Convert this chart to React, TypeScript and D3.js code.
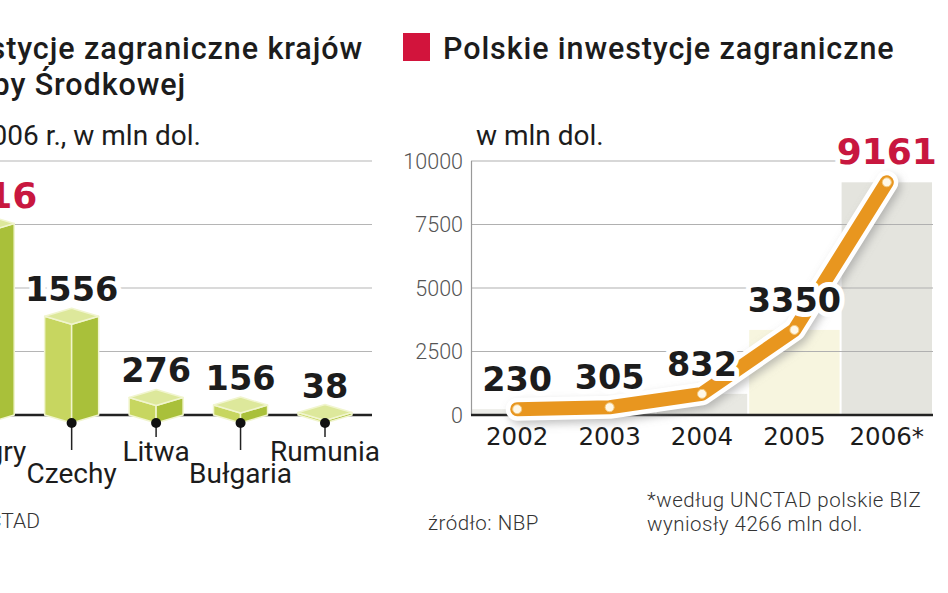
import React from "react";
import * as d3 from "d3";

// left panel: Central European outward FDI in 2006
const countries = ["Węgry", "Czechy", "Litwa", "Bułgaria", "Rumunia"];
const countryValues = [3016, 1556, 276, 156, 38];
const countryTicks = [0, 1000, 2000, 3000, 4000];

// right panel: Polish outward FDI
const years = ["2002", "2003", "2004", "2005", "2006*"];
const polandValues = [230, 305, 832, 3350, 9161];
const polandTicks = [0, 2500, 5000, 7500, 10000];

const RED = "#c8173f";
const INK = "#1c1c1c";
const SANS = "Roboto, 'Liberation Sans', sans-serif";
const NUM = "'DejaVu Sans', sans-serif";

const App = () => {
  // ---- left chart
  const xL = d3.scalePoint<string>().domain(countries).range([-12.8, 325]);
  const yL = d3.scaleLinear().domain([0, 4000]).range([415, 161]);
  const base = yL(0);
  const hw = 27; // half width of a box
  const dy = 8; // isometric depth

  const boxes = countries.map((c, i) => {
    const cx = xL(c)!;
    const top = yL(countryValues[i]);
    const left = [
      [cx - hw, base],
      [cx, base + dy],
      [cx, top + dy],
      [cx - hw, top],
    ];
    const right = [
      [cx, base + dy],
      [cx + hw, base],
      [cx + hw, top],
      [cx, top + dy],
    ];
    const lid = [
      [cx - hw, top],
      [cx, top + dy],
      [cx + hw, top],
      [cx, top - dy],
    ];
    return { c, cx, top, left, right, lid, v: countryValues[i], i };
  });
  const pts = (p: number[][]) => p.map((d) => d.join(",")).join(" ");

  // ---- right chart
  const xR = d3.scaleBand<string>().domain(years).range([471, 933]);
  const yR = d3.scaleLinear().domain([0, 10000]).range([415, 161]);
  const bw = xR.bandwidth();
  const cxR = (i: number) => xR(years[i])! + bw / 2;
  const line = d3
    .line<number>()
    .x((d, i) => cxR(i))
    .y((d) => yR(d));
  const path = line(polandValues) || "";
  const barFill = ["#ececE8", "#ececE8", "#e8e8e2", "#f7f5df", "#e4e4de"];

  return (
    <svg
      width={948}
      height={593}
      style={{ position: "absolute", left: 0, top: 0, background: "#fff" }}
    >
      <defs>
        <filter id="soft" x="-20%" y="-20%" width="140%" height="140%">
          <feGaussianBlur stdDeviation="4" />
        </filter>
      </defs>

      {/* ---------- left panel ---------- */}
      <g fontFamily={SANS} fill={INK}>
        <g fontSize={30.5} fontWeight={500} letterSpacing={0.9}>
          <text x={363} y={59} textAnchor="end">
            Inwestycje zagraniczne krajów
          </text>
          <text x={186} y={95} textAnchor="end">
            Europy Środkowej
          </text>
        </g>
        <text x={201} y={145} textAnchor="end" fontSize={28}>
          w 2006 r., w mln dol.
        </text>
        <text x={40} y={528} textAnchor="end" fontSize={21} fontWeight={300} fill="#333">
          źródło: UNCTAD
        </text>
      </g>

      {countryTicks.slice(1).map((t) => (
        <line key={t} x1={0} x2={372} y1={yL(t)} y2={yL(t)} stroke="#b5b5b5" strokeWidth={1.2} />
      ))}
      <line x1={0} x2={372} y1={base} y2={base} stroke="#222" strokeWidth={2.5} />

      {boxes.map((b) => (
        <g key={b.c} stroke="#f1f5cf" strokeWidth={1.5} strokeLinejoin="round">
          <polygon points={pts(b.left)} fill="#c7d660" />
          <polygon points={pts(b.right)} fill="#a9c03a" />
          <polygon points={pts(b.lid)} fill="#dde89b" />
        </g>
      ))}

      {boxes.map((b) => {
        const low = b.i % 2 === 1;
        return (
          <g key={b.c}>
            <line x1={b.cx} x2={b.cx} y1={base + dy} y2={low ? 450 : 437} stroke="#222" strokeWidth={1.5} />
            <circle cx={b.cx} cy={base + dy} r={5} fill="#111" />
            <text
              x={b.cx}
              y={low ? 483 : 461}
              textAnchor="middle"
              fontFamily={SANS}
              fontSize={28}
              fill={INK}
            >
              {b.c}
            </text>
            <text
              x={b.cx}
              y={b.top - dy - 7}
              textAnchor="middle"
              fontFamily={NUM}
              fontWeight="bold"
              fontSize={b.i === 0 ? 36 : 33.5}
              fill={b.i === 0 ? RED : INK}
              stroke="#fff"
              strokeWidth={10}
              strokeLinejoin="round"
              paintOrder="stroke"
            >
              {b.v}
            </text>
          </g>
        );
      })}

      {/* ---------- right panel ---------- */}
      <rect x={403} y={33} width={27} height={28} fill="#d2143c" />
      <text
        x={443}
        y={59}
        fontFamily={SANS}
        fontSize={30.5}
        fontWeight={500}
        letterSpacing={0.9}
        fill={INK}
      >
        Polskie inwestycje zagraniczne
      </text>
      <text x={476} y={145} fontFamily={SANS} fontSize={28} fill={INK}>
        w mln dol.
      </text>

      {polandValues.map((v, i) => (
        <rect
          key={years[i]}
          x={xR(years[i])! + 1}
          width={bw - 2}
          y={yR(v)}
          height={yR(0) - yR(v)}
          fill={barFill[i]}
        />
      ))}

      {polandTicks.map((t) => (
        <g key={t}>
          {t > 0 && (
            <line x1={471} x2={933} y1={yR(t)} y2={yR(t)} stroke="#b0b0b0" strokeWidth={1.2} />
          )}
          <text
            x={463}
            y={yR(t)}
            dy="0.36em"
            textAnchor="end"
            fontFamily={SANS}
            fontSize={21.5}
            fontWeight={300}
            fill="#555"
          >
            {t}
          </text>
        </g>
      ))}
      <line x1={471.5} x2={471.5} y1={yR(10000)} y2={yR(0)} stroke="#999" strokeWidth={1.2} />
      <line x1={471} x2={933} y1={yR(0)} y2={yR(0)} stroke="#222" strokeWidth={2.5} />

      {years.map((y, i) => (
        <text
          key={y}
          x={cxR(i)}
          y={445}
          textAnchor="middle"
          fontFamily={NUM}
          fontSize={24.5}
          fill={INK}
        >
          {y}
        </text>
      ))}

      <path
        d={path}
        transform="translate(3,4)"
        fill="none"
        stroke="#8a8a8a"
        strokeOpacity={0.55}
        strokeWidth={22}
        strokeLinecap="round"
        strokeLinejoin="round"
        filter="url(#soft)"
      />
      <path d={path} fill="none" stroke="#fff" strokeWidth={23} strokeLinecap="round" strokeLinejoin="round" />
      <path d={path} fill="none" stroke="#e8961f" strokeWidth={14} strokeLinecap="round" strokeLinejoin="round" />
      {polandValues.map((v, i) => (
        <circle key={i} cx={cxR(i)} cy={yR(v)} r={4.5} fill="#fff8e8" stroke="#f3c77a" strokeWidth={1} />
      ))}

      {polandValues.map((v, i) => (
        <text
          key={i}
          x={cxR(i)}
          y={yR(v) - 18}
          textAnchor="middle"
          fontFamily={NUM}
          fontWeight="bold"
          fontSize={i === 4 ? 36 : 33.5}
          fill={i === 4 ? RED : INK}
          stroke="#fff"
          strokeWidth={10}
          strokeLinejoin="round"
          paintOrder="stroke"
        >
          {v}
        </text>
      ))}

      <g fontFamily={SANS} fontSize={20.5} fontWeight={300} fill="#333" letterSpacing={0.5}>
        <text x={428} y={530}>źródło: NBP</text>
        <text x={647} y={507}>*według UNCTAD polskie BIZ</text>
        <text x={647} y={531}>wyniosły 4266 mln dol.</text>
      </g>
    </svg>
  );
};

export default App;
